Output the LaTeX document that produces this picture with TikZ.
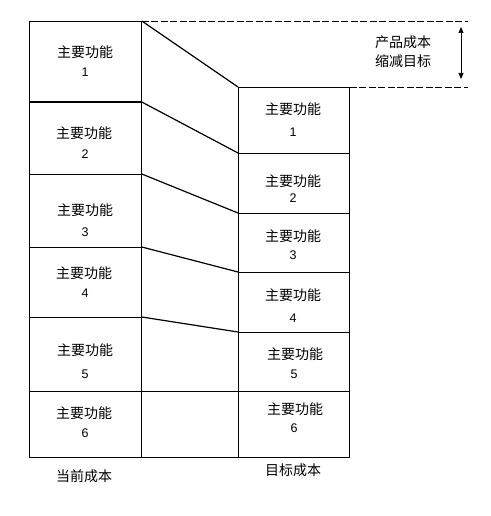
\documentclass[tikz,border=0pt]{standalone}
\usepackage{fontspec}
\setmainfont{Liberation Sans}
\newfontfamily\cjk{Noto Sans CJK SC}
\usetikzlibrary{arrows.meta}
\begin{document}
\begin{tikzpicture}[x=1pt,y=-1pt,
  box/.style={draw=black,line width=0.8pt,inner sep=0pt,anchor=north west},
  lbl/.style={font=\cjk\fontsize{14}{16}\selectfont,inner sep=0pt},
  num/.style={font=\fontsize{12.5}{14}\selectfont,inner sep=0pt},
  diag/.style={line width=1.2pt},
  dash line/.style={line width=0.8pt,dash pattern=on 7pt off 2.5pt}]
\useasboundingbox (0,0) rectangle (490,516);
% left column
\node[box,minimum width=112pt,minimum height=81pt] (L1) at (29,21) {};
\node[box,minimum width=112pt,minimum height=72pt] (L2) at (29,102) {};
\node[box,minimum width=112pt,minimum height=73pt] (L3) at (29,174) {};
\node[box,minimum width=112pt,minimum height=70pt] (L4) at (29,247) {};
\node[box,minimum width=112pt,minimum height=74pt] (L5) at (29,317) {};
\node[box,minimum width=112pt,minimum height=66pt] (L6) at (29,391) {};
% right column
\node[box,minimum width=111pt,minimum height=66pt] (R1) at (238,87) {};
\node[box,minimum width=111pt,minimum height=60pt] (R2) at (238,153) {};
\node[box,minimum width=111pt,minimum height=59pt] (R3) at (238,213) {};
\node[box,minimum width=111pt,minimum height=60pt] (R4) at (238,272) {};
\node[box,minimum width=111pt,minimum height=59pt] (R5) at (238,332) {};
\node[box,minimum width=111pt,minimum height=66pt] (R6) at (238,391) {};
% left texts
\node[lbl] (lt1) at (85,52) {主要功能};  \node[num] (ln1) at (85,72) {1};
\node[lbl] (lt2) at (84,133) {主要功能}; \node[num] (ln2) at (85,154) {2};
\node[lbl] (lt3) at (85,210) {主要功能}; \node[num] (ln3) at (85,232) {3};
\node[lbl] (lt4) at (84,273) {主要功能}; \node[num] (ln4) at (85,293) {4};
\node[lbl] (lt5) at (85,350) {主要功能}; \node[num] (ln5) at (85,374) {5};
\node[lbl] (lt6) at (84,413) {主要功能}; \node[num] (ln6) at (85,433) {6};
% right texts
\node[lbl] (rt1) at (293,109) {主要功能}; \node[num] (rn1) at (293,132) {1};
\node[lbl] (rt2) at (293,181) {主要功能}; \node[num] (rn2) at (293,198) {2};
\node[lbl] (rt3) at (293,236) {主要功能}; \node[num] (rn3) at (293,255) {3};
\node[lbl] (rt4) at (293,295) {主要功能}; \node[num] (rn4) at (293,318) {4};
\node[lbl] (rt5) at (295,354) {主要功能}; \node[num] (rn5) at (294,374) {5};
\node[lbl] (rt6) at (295,409) {主要功能}; \node[num] (rn6) at (294,428) {6};
% connectors
\draw[diag] (L1.north east) -- (R1.north west);
\draw[diag] (L2.north east) -- (R2.north west);
\draw[diag] (L3.north east) -- (R3.north west);
\draw[diag] (L4.north east) -- (R4.north west);
\draw[diag] (L5.north east) -- (R5.north west);
\draw[line width=0.8pt] (L6.north east) -- (R6.north west);
\draw[line width=0.8pt] (L6.south east) -- (R6.south west);
\draw[line width=1.2pt] (L2.north west) -- (L2.north east);
% dashed reference lines
\coordinate (topend) at (468,21);
\coordinate (midend) at (468,87);
\draw[dash line] (L1.north east) -- (topend);
\draw[dash line] (R1.north east) -- (midend);
% arrow
\coordinate (at) at (461,27);
\coordinate (ab) at (461,79);
\draw[line width=0.7pt,{Triangle[length=6pt,width=5pt]}-{Triangle[length=6pt,width=5pt]}] (at) -- (ab);
\node[lbl,align=center] (goal) at (403,52) {产品成本\\[3pt]缩减目标};
% bottom labels
\node[lbl] (cur) at (84,476) {当前成本};
\node[lbl] (tgt) at (293,470) {目标成本};
\end{tikzpicture}
\end{document}
